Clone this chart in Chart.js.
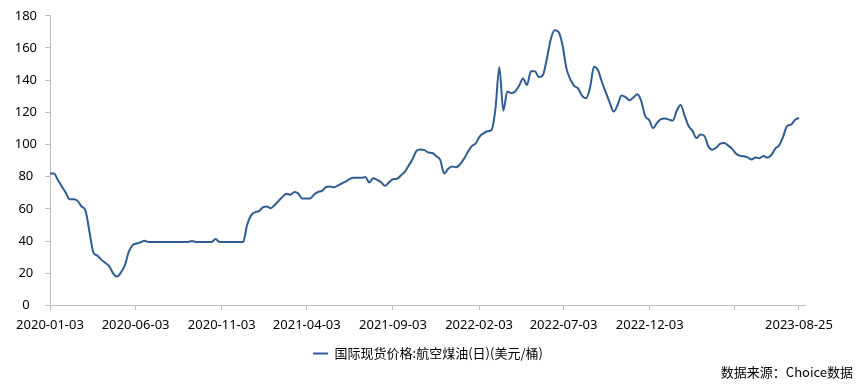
<!DOCTYPE html>
<html>
<head>
<meta charset="utf-8">
<script src="https://cdn.jsdelivr.net/npm/chart.js@4"></script>
<style>
  html, body { margin: 0; padding: 0; background: #fff; }
  #wrap { width: 856px; height: 392px; }
</style>
</head>
<body>
<div id="wrap"><canvas id="jetfuel"></canvas></div>
<script>
// weekly closes (Fridays), 2020-01-03 .. 2023-08-25, USD/bbl
const startDate = '2020-01-03';
const jetFuel = [
  82, 82, 78, 74, 70, 66, 66, 65, 61.5, 59,
  46, 33, 31, 28.5, 26.5, 24.5, 20, 18, 20.5, 25,
  33.5, 37.5, 38.5, 39.3, 40.3, 39.5, 39.5, 39.5, 39.5, 39.5,
  39.5, 39.5, 39.5, 39.5, 39.5, 39.5, 40, 39.5, 39.5, 39.5,
  39.5, 39.5, 41.3, 39.5, 39.5, 39.5, 39.5, 39.5, 39.5, 39.5,
  50, 56, 58, 58.6, 61, 61.5, 60.5, 62.5, 65, 67.5,
  69.5, 68.8, 70.5, 69.5, 66.5, 66.5, 66.5, 69, 70.5, 71.2,
  73.5, 74, 73.4, 74.5, 75.8, 77, 78.5, 79.3, 79.3, 79.3,
  79.8, 76.5, 79, 78, 76.6, 74.4, 76.5, 78.4, 78.7, 80.8,
  83, 87, 91, 96.2, 97, 96.5, 95.1, 94.8, 92.8, 90.5,
  82, 85, 86.4, 85.9, 87.6, 91, 95.4, 99, 100.8, 105,
  107, 108.2, 109, 122, 148, 121, 133, 132, 133, 136.5,
  141, 137, 145.5, 145.6, 142, 143, 152.7, 165, 171, 170,
  162, 147.5, 140.5, 136.5, 134.8, 130.2, 128.8, 135.3, 148.4, 146.3,
  139, 132.4, 126, 120.5, 124.6, 130.5, 129.5, 127.6, 129.2, 131.2,
  127, 117.6, 115.3, 110.2, 113.5, 115.8, 116.2, 115.5, 114.9, 121,
  124.6, 118, 111.5, 108.5, 104, 106.2, 105.4, 99, 96.8, 98,
  100.5, 101, 99.5, 97.5, 94.5, 93, 92.7, 92, 90.7, 92,
  91.5, 92.9, 91.9, 93.5, 97.5, 99.6, 105, 111.5, 112.4, 115.3,
  116.5
];
const tickDates = ['2020-01-03', '2020-06-03', '2020-11-03', '2021-04-03', '2021-09-03',
  '2022-02-03', '2022-07-03', '2022-12-03', '2023-05-03', '2023-08-25'];
const tickLabels = ['2020-01-03', '2020-06-03', '2020-11-03', '2021-04-03', '2021-09-03',
  '2022-02-03', '2022-07-03', '2022-12-03', '', '2023-08-25'];
const yTicks = [0, 20, 40, 60, 80, 100, 120, 140, 160, 180];
const seriesName = '国际现货价格:航空煤油(日)(美元/桶)';
const sourceNote = '数据来源：Choice数据';

const DAY = 86400000;
function dayOf(s) {
  const [y, m, d] = s.split('-').map(Number);
  const [y0, m0, d0] = startDate.split('-').map(Number);
  return Math.round((Date.UTC(y, m - 1, d) - Date.UTC(y0, m0 - 1, d0)) / DAY);
}
const tickDays = tickDates.map(dayOf);
const lastDay = tickDays[tickDays.length - 1];
const points = jetFuel.map((v, i) => ({ x: i * 7, y: v }));

Chart.defaults.font.family = '"Noto Sans", "Noto Sans CJK SC", sans-serif';
Chart.defaults.font.size = 13;
Chart.defaults.color = '#000';

const axisGrey = '#bfbfbf';

const sourcePlugin = {
  id: 'sourceNote',
  afterDraw(chart) {
    const c = chart.ctx;
    c.save();
    c.font = '13px "Noto Sans CJK SC", "Noto Sans", sans-serif';
    c.fillStyle = '#000';
    c.textAlign = 'right';
    c.textBaseline = 'middle';
    c.fillText(sourceNote, 853, 372);
    c.restore();
  }
};

new Chart(document.getElementById('jetfuel'), {
  type: 'line',
  data: {
    datasets: [{
      label: seriesName,
      data: points,
      borderColor: '#2e5c93',
      backgroundColor: '#2e5c93',
      borderWidth: 2,
      pointRadius: 0,
      cubicInterpolationMode: 'monotone',
      pointStyle: 'line'
    }]
  },
  options: {
    responsive: true,
    maintainAspectRatio: false,
    animation: false,
    layout: { padding: { top: 10, right: 0, bottom: 22, left: 0 } },
    plugins: {
      legend: {
        position: 'bottom',
        labels: {
          usePointStyle: true,
          pointStyleWidth: 15,
          boxHeight: 13,
          padding: 10,
          font: { family: '"Noto Sans CJK SC", "Noto Sans", sans-serif', size: 13 }
        }
      },
      tooltip: { enabled: false }
    },
    scales: {
      x: {
        type: 'linear',
        min: 0,
        max: lastDay + 12,
        grid: { drawOnChartArea: false, tickLength: 5, color: axisGrey },
        border: { color: axisGrey },
        afterBuildTicks(scale) {
          scale.ticks = tickDays.map(v => ({ value: v }));
        },
        afterFit(scale) { scale.height = 31.5; },
        ticks: {
          autoSkip: false,
          maxRotation: 0,
          padding: 7,
          callback(value) {
            const k = tickDays.indexOf(value);
            return k >= 0 ? tickLabels[k] : '';
          }
        }
      },
      y: {
        min: 0,
        max: 180,
        grid: { drawOnChartArea: false, tickLength: 5, color: axisGrey },
        border: { color: axisGrey },
        afterBuildTicks(scale) {
          scale.ticks = yTicks.map(v => ({ value: v }));
        },
        afterFit(scale) { scale.width = 50; },
        ticks: { padding: 8, crossAlign: 'center' }
      },
      pad: {
        position: 'right',
        grid: { display: false },
        border: { display: false },
        ticks: { display: false },
        afterFit(scale) { scale.width = 50.3; }
      }
    }
  },
  plugins: [sourcePlugin]
});
</script>
</body>
</html>
